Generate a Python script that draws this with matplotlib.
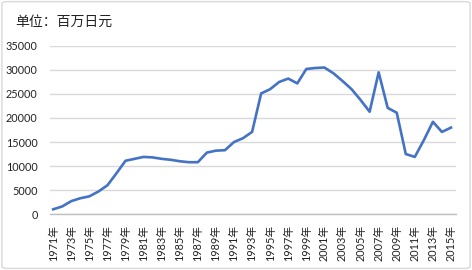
import matplotlib.pyplot as plt
from matplotlib.patches import FancyBboxPatch

# data (unit: million yen)
years = list(range(1971, 2016))
values = [1000, 1600, 2700, 3300, 3700, 4700, 6000, 8500, 11100, 11500,
          11900, 11800, 11500, 11300, 11000, 10800, 10800, 12800, 13200, 13300,
          15000, 15800, 17100, 25100, 26000, 27500, 28200, 27200, 30200, 30400,
          30500, 29300, 27700, 26000, 23750, 21300, 29500, 22100, 21100, 12500,
          11900, 15400, 19200, 17100, 18000]
tick_years = years[::2]
tick_labels = [f"{y}年" for y in tick_years]
y_ticks = [0, 5000, 10000, 15000, 20000, 25000, 30000, 35000]

fonts = ['Lato', 'Noto Sans CJK SC', 'DejaVu Sans']
plt.rcParams['font.family'] = fonts

fig = plt.figure(figsize=(4.72, 2.70), dpi=100)

# light frame around the whole chart
frame = FancyBboxPatch((0.004, 0.006), 0.992, 0.988, boxstyle="round,pad=0,rounding_size=0.01",
                       transform=fig.transFigure, fill=False, edgecolor="#D9D9D9", linewidth=1)
fig.patches.append(frame)

ax = fig.add_axes([0.106, 0.207, 0.86, 0.623])
ax.plot(years, values, color="#4472C4", linewidth=1.9, solid_joinstyle="round")

ax.set_xlim(1970.65, 2015.55)
ax.set_ylim(0, 35000)
ax.set_yticks(y_ticks)
ax.set_yticklabels([str(v) for v in y_ticks], fontsize=7.8, color="#222222")
ax.set_xticks(tick_years)
ax.set_xticklabels(tick_labels, rotation=90, fontsize=7.8, color="#222222")
ax.tick_params(axis="both", length=0)
ax.tick_params(axis="x", pad=8)
ax.tick_params(axis="y", pad=9)

ax.grid(axis="y", color="#D9D9D9", linewidth=1)
ax.set_axisbelow(True)
for side in ["top", "right", "left"]:
    ax.spines[side].set_visible(False)
ax.spines["bottom"].set_color("#BFBFBF")
ax.spines["bottom"].set_linewidth(1)

fig.text(0.032, 0.92, "单位：百万日元", fontsize=10, family=['Noto Sans CJK SC'],
         color="#222222", va="center", ha="left")

fig.savefig("out.png", dpi=100)
